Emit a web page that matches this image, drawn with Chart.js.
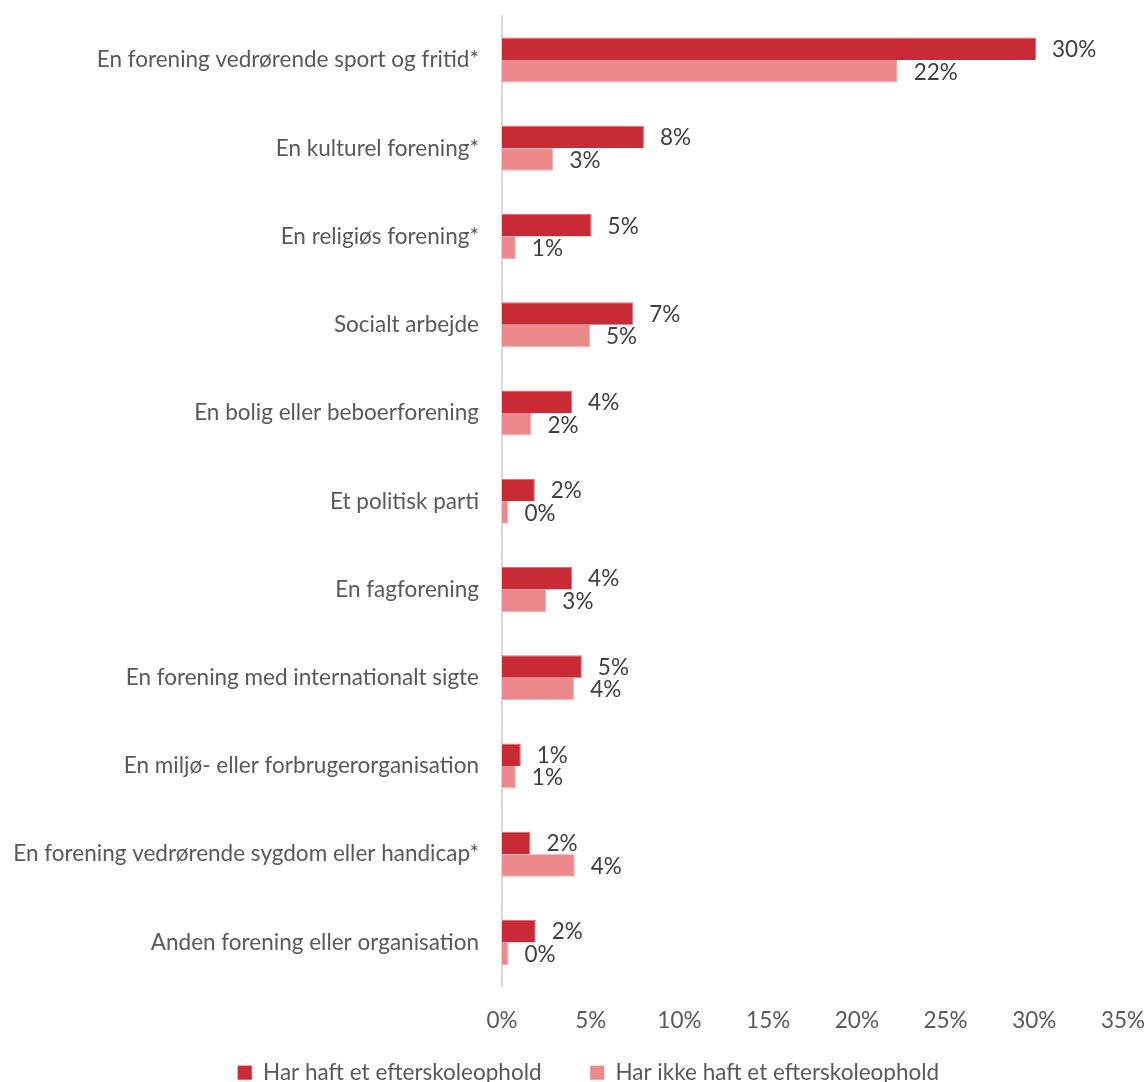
<!DOCTYPE html>
<html>
<head>
<meta charset="utf-8">
<script src="https://cdn.jsdelivr.net/npm/chart.js@4/dist/chart.umd.min.js"></script>
<style>
html,body{margin:0;padding:0;background:#fff;}
#wrap{width:1147px;height:1082px;position:relative;}
</style>
</head>
<body>
<div id="wrap"><canvas id="c"></canvas></div>
<script>
const categories = [
  "En forening vedrørende sport og fritid*",
  "En kulturel forening*",
  "En religiøs forening*",
  "Socialt arbejde",
  "En bolig eller beboerforening",
  "Et politisk parti",
  "En fagforening",
  "En forening med internationalt sigte",
  "En miljø- eller forbrugerorganisation",
  "En forening vedrørende sygdom eller handicap*",
  "Anden forening eller organisation"
];
const seriesNames = ["Har haft et efterskoleophold", "Har ikke haft et efterskoleophold"];
const withStay = [30.1, 8.0, 5.05, 7.4, 3.95, 1.85, 3.95, 4.5, 1.06, 1.6, 1.9];
const withoutStay = [22.3, 2.9, 0.78, 4.96, 1.66, 0.36, 2.5, 4.07, 0.78, 4.1, 0.36];
const xTicks = [0, 5, 10, 15, 20, 25, 30, 35];

const FONT = "Lato, 'Open Sans', sans-serif";
const FS = 22.5;

const valueLabels = {
  id: 'valueLabels',
  afterDatasetsDraw(chart) {
    const ctx = chart.ctx;
    ctx.save();
    ctx.font = FS + "px " + FONT;
    ctx.fillStyle = "#404040";
    ctx.textAlign = "left";
    ctx.textBaseline = "middle";
    chart.data.datasets.forEach((ds, di) => {
      const meta = chart.getDatasetMeta(di);
      meta.data.forEach((bar, i) => {
        ctx.fillText(Math.round(ds.data[i]) + "%", bar.x + 16, bar.y + 1);
      });
    });
    ctx.restore();
  }
};

const legendShift = {
  id: 'legendShift',
  afterLayout(chart) {
    if (chart.legend) { chart.legend.left += 30; }
  }
};

new Chart(document.getElementById('c'), {
  type: 'bar',
  data: {
    labels: categories,
    datasets: [
      { label: seriesNames[0], data: withStay, backgroundColor: "#C82A36", borderColor: "#E06A72", borderWidth: {top:1,right:1,bottom:0,left:0}, borderSkipped: 'start' },
      { label: seriesNames[1], data: withoutStay, backgroundColor: "#EB898B", borderColor: "#F2B0B2", borderWidth: {top:0,right:1,bottom:1,left:0}, borderSkipped: 'start' }
    ]
  },
  options: {
    indexAxis: 'y',
    responsive: true,
    maintainAspectRatio: false,
    animation: false,
    layout: { padding: { top: 16, right: 0, left: 0, bottom: -12 } },
    datasets: { bar: { barPercentage: 1.0, categoryPercentage: 0.51 } },
    scales: {
      x: {
        min: 0, max: 35,
        afterBuildTicks(scale) { scale.ticks = xTicks.map(v => ({ value: v })); },
        afterFit(scale) { scale.height = 61; scale.paddingRight = 24; },
        grid: { display: false, drawTicks: true, tickLength: 21 },
        border: { display: false },
        ticks: {
          color: "#595959",
          font: { family: FONT, size: FS },
          padding: 0,
          callback: v => v + "%"
        }
      },
      y: {
        grid: { display: false, drawTicks: true, tickLength: 23 },
        border: { display: true, color: "#D9D9D9", width: 2 },
        afterFit(scale) { scale.width = 502; },
        ticks: {
          color: "#595959",
          font: { family: FONT, size: FS },
          padding: 0
        }
      }
    },
    plugins: {
      legend: {
        position: 'bottom',
        labels: {
          color: "#595959",
          font: { family: FONT, size: FS },
          boxWidth: 14,
          boxHeight: 14,
          padding: 14,
          generateLabels(chart) {
            const items = Chart.defaults.plugins.legend.labels.generateLabels(chart);
            items[0].text = items[0].text + "      ";
            return items;
          }
        }
      },
      tooltip: { enabled: false }
    }
  },
  plugins: [valueLabels, legendShift]
});
</script>
</body>
</html>
